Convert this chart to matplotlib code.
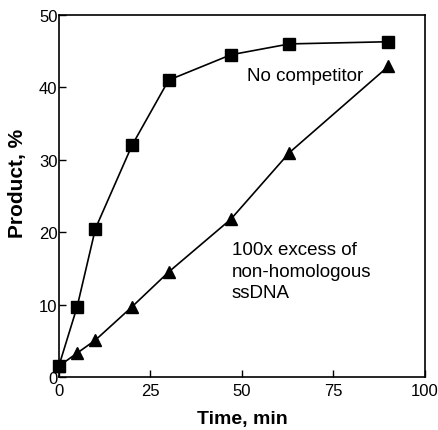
import matplotlib
matplotlib.use('Agg')
import matplotlib.pyplot as plt

plt.rcParams['font.family'] = ['Liberation Sans', 'DejaVu Sans']

# time points (min)
time = [0, 5, 10, 20, 30, 47, 63, 90]
no_comp = [1.5, 9.7, 20.5, 32, 41, 44.5, 46, 46.3]
excess = [1.5, 3.3, 5.1, 9.7, 14.5, 21.8, 31, 42.9]

x_ticks = [0, 25, 50, 75, 100]
y_ticks = [0, 10, 20, 30, 40, 50]

fig = plt.figure(figsize=(4.39, 4.31), dpi=100)
ax = fig.add_axes([0.134, 0.123, 0.834, 0.840])

ax.plot(time, no_comp, color='black', lw=1.2, marker='s', ms=8.5,
        markerfacecolor='black', clip_on=False, zorder=3)
ax.plot(time, excess, color='black', lw=1.2, marker='^', ms=8.5,
        markerfacecolor='black', clip_on=False, zorder=3)

ax.set_xlim(0, 100)
ax.set_ylim(0, 50)
ax.set_xticks(x_ticks)
ax.set_yticks(y_ticks)
ax.tick_params(direction='in', length=5, width=1, labelsize=12)
ax.tick_params(axis='x', pad=4)
ax.tick_params(axis='y', pad=1)
for s in ax.spines.values():
    s.set_linewidth(1.2)

ax.text(51.5, 41.6, 'No competitor', fontsize=13.5, va='center', ha='left')
ax.text(47.3, 14.6, '100x excess of\nnon-homologous\nssDNA', fontsize=13.5,
        va='center', ha='left', linespacing=1.35)

ax.set_xlabel('Time, min', fontsize=14, fontweight='bold', labelpad=9)
ax.set_ylabel('Product, %', fontsize=15, fontweight='bold')
ax.yaxis.set_label_coords(-0.087, 0.536)

fig.savefig('out.png', dpi=100)
